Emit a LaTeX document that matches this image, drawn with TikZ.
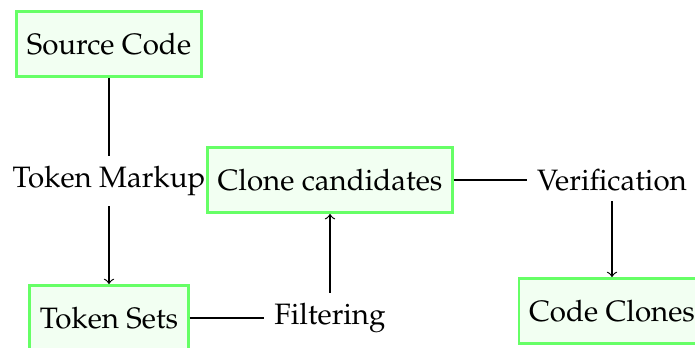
\documentclass[tikz,border=0pt]{standalone}
\usepackage[T1]{fontenc}
\usepackage{mathpazo}
\usetikzlibrary{positioning}

\tikzset{
  stage/.style={draw=green!60, line width=1pt, fill=green!5, minimum height=22pt, inner xsep=3.4pt},
  action/.style={inner sep=3.33pt}
}

\begin{document}
\begin{tikzpicture}[x=0.339pt, y=-0.339pt]
\useasboundingbox (0,0) rectangle (695,347);
% pipeline stages
\node[stage] (source) at (109,44) {Source Code};
\node[stage] (cands) at (330,180) {Clone candidates};
\node[stage] (tokens) at (109,318) {Token Sets};
\node[stage] (clones) at (612,311) {Code Clones};
% actions between the stages
\node[action] (markup) at (109,181) {Token Markup};
\node[action] (filter) at (330,318) {Filtering};
\node[action] (verify) at (612,180) {Verification};
\draw (source) -- (markup);
\draw[->] (markup) -- (tokens);
\draw (tokens) -- (filter);
\draw[->] (filter) -- (cands);
\draw (cands) -- (verify);
\draw[->] (verify) -- (clones);
\end{tikzpicture}
\end{document}
